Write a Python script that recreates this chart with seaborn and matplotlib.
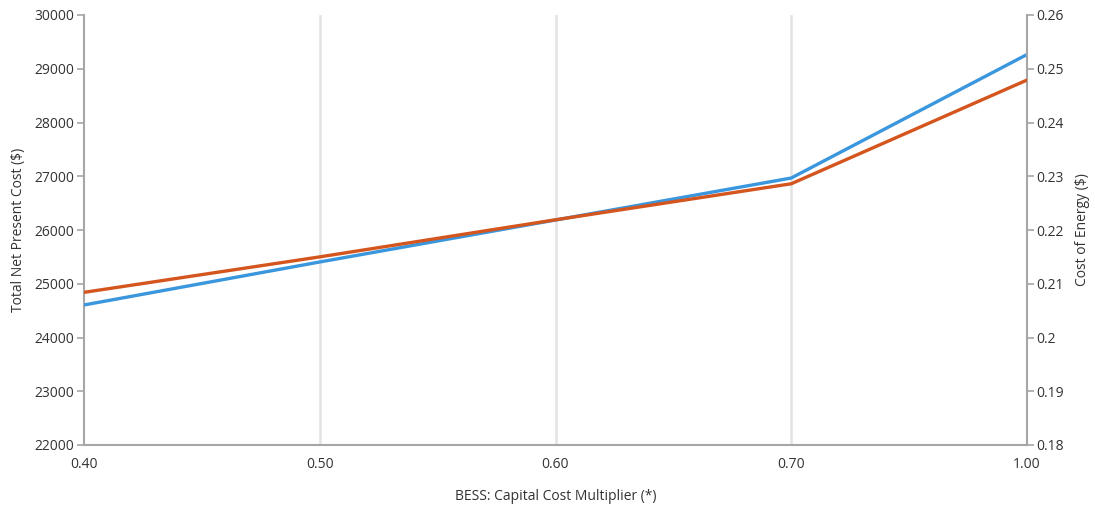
import matplotlib
matplotlib.use("Agg")
import matplotlib.pyplot as plt
import seaborn as sns
import pandas as pd

# Sensitivity of system economics to the BESS capital cost multiplier
multiplier_labels = ["0.40", "0.50", "0.60", "0.70", "1.00"]
total_npc = [24605, 25405, 26186, 26967, 29265]          # Total Net Present Cost ($)
cost_of_energy = [0.2084, 0.2150, 0.2219, 0.2286, 0.2479]  # Cost of Energy ($)

npc_ticks = [22000, 23000, 24000, 25000, 26000, 27000, 28000, 29000, 30000]
coe_ticks = [0.18, 0.19, 0.2, 0.21, 0.22, 0.23, 0.24, 0.25, 0.26]
coe_tick_labels = ["0.18", "0.19", "0.2", "0.21", "0.22", "0.23", "0.24", "0.25", "0.26"]

sns.set_theme(style="white")
plt.rcParams["font.family"] = ["Open Sans", "DejaVu Sans"]

df = pd.DataFrame({
    "pos": range(len(multiplier_labels)),
    "npc": total_npc,
    "coe": cost_of_energy,
})

fig = plt.figure(figsize=(10.95, 5.07), dpi=100)
ax = fig.add_axes([84 / 1095, 1 - 445 / 507, (1027 - 84) / 1095, (445 - 15) / 507])
ax2 = ax.twinx()

axis_grey = "#A6A6A6"
text_col = "#333333"

# vertical gridlines at the interior categories
for p in df["pos"][1:-1]:
    ax.axvline(p, color="#E3E3E3", lw=1.8, zorder=0)

sns.lineplot(data=df, x="pos", y="npc", ax=ax, color="#3A96DD", lw=2.4, zorder=3)
sns.lineplot(data=df, x="pos", y="coe", ax=ax2, color="#D4561E", lw=2.4, zorder=3)

ax.set_xlim(0, len(multiplier_labels) - 1)
ax.set_ylim(npc_ticks[0], npc_ticks[-1])
ax2.set_ylim(coe_ticks[0], coe_ticks[-1])

ax.set_xticks(list(df["pos"]))
ax.set_xticklabels(multiplier_labels)
ax.set_yticks(npc_ticks)
ax.set_yticklabels([str(t) for t in npc_ticks])
ax2.set_yticks(coe_ticks)
ax2.set_yticklabels(coe_tick_labels)

for a in (ax, ax2):
    a.spines["top"].set_visible(False)
    for s in ("left", "right", "bottom"):
        a.spines[s].set_color(axis_grey)
        a.spines[s].set_linewidth(1.5)
    a.grid(False)
    a.tick_params(axis="y", length=5, width=1.2, color=axis_grey,
                  labelsize=10, labelcolor=text_col, pad=2)
ax.spines["right"].set_visible(False)
ax2.spines["left"].set_visible(False)
ax2.spines["bottom"].set_visible(False)
ax.tick_params(axis="x", length=0, labelsize=10, labelcolor=text_col, pad=9)

ax.set_xlabel("BESS: Capital Cost Multiplier (*)", fontsize=10, color=text_col, labelpad=12)
ax.set_ylabel("Total Net Present Cost ($)", fontsize=10, color=text_col, labelpad=6)
ax2.set_ylabel("Cost of Energy ($)", fontsize=10, color=text_col, labelpad=8)

fig.savefig("out.png", dpi=100)
